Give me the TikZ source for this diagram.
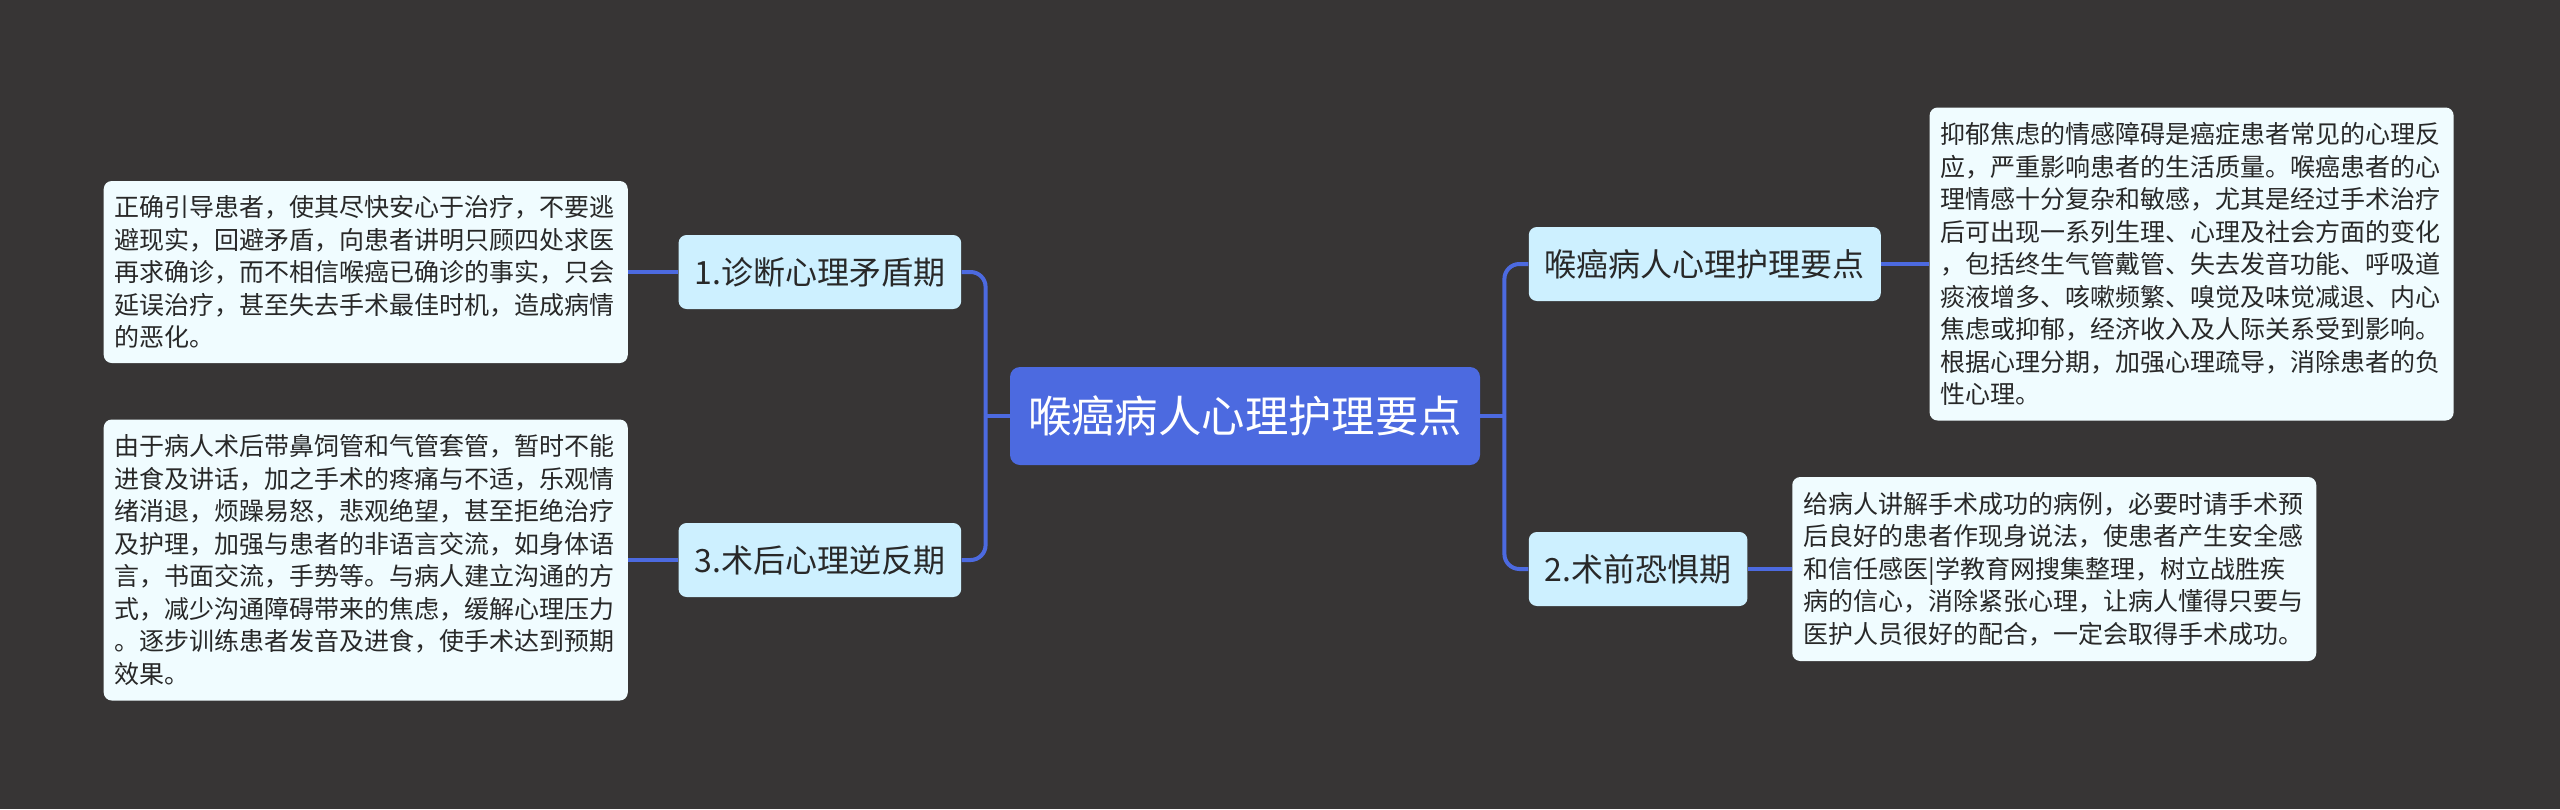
\documentclass[tikz,border=0pt]{standalone}
\usepackage{fontspec}
\setmainfont{Noto Sans CJK SC}
\usetikzlibrary{positioning}
\definecolor{ourbg}{RGB}{55,53,53}
\definecolor{ourblue}{RGB}{76,106,224}
\definecolor{ourcyan}{RGB}{205,240,255}
\definecolor{ourpale}{RGB}{240,252,255}
\definecolor{ourtext}{RGB}{40,40,40}

\begin{document}
\begin{tikzpicture}[
  node distance=24pt,
  root/.style={fill=ourblue, text=white, rounded corners=5pt, inner xsep=0pt, minimum width=235pt, minimum height=49pt, font=\fontsize{21.7pt}{26pt}\selectfont},
  topic/.style={fill=ourcyan, text=ourtext, rounded corners=4pt, inner xsep=8pt, minimum height=37pt, font=\fontsize{16pt}{19pt}\selectfont},
  note/.style={fill=ourpale, text=ourtext, rounded corners=4pt, inner xsep=5.5pt, text width=251pt, align=left, font=\fontsize{12.5pt}{16.25pt}\selectfont},
  link/.style={draw=ourblue, line width=2pt, rounded corners=7.5pt}
]
\fill[ourbg] (0,0) rectangle (1280pt,-404.5pt);

\node[root] (root) at (622.5pt,-208pt) {喉癌病人心理护理要点};

% left branch
\node[topic, left=of root, yshift=72pt] (t1) {1.诊断心理矛盾期};
\node[topic, left=of root, yshift=-72pt] (t3) {3.术后心理逆反期};
% right branch
\node[topic, right=of root, yshift=76pt] (tA) {喉癌病人心理护理要点};
\node[topic, right=of root, yshift=-76.5pt] (t2) {2.术前恐惧期};

\node[note, left=25pt of t1, minimum height=91pt] (n1) {正确引导患者，使其尽快安心于治疗，不要逃\\避现实，回避矛盾，向患者讲明只顾四处求医\\再求确诊，而不相信喉癌已确诊的事实，只会\\延误治疗，甚至失去手术最佳时机，造成病情\\的恶化。};
\node[note, left=25pt of t3, minimum height=140.5pt] (n3) {由于病人术后带鼻饲管和气管套管，暂时不能\\进食及讲话，加之手术的疼痛与不适，乐观情\\绪消退，烦躁易怒，悲观绝望，甚至拒绝治疗\\及护理，加强与患者的非语言交流，如身体语\\言，书面交流，手势等。与病人建立沟通的方\\式，减少沟通障碍带来的焦虑，缓解心理压力\\。逐步训练患者发音及进食，使手术达到预期\\效果。};
\node[note, right=24pt of tA, minimum height=156.5pt] (nA) {抑郁焦虑的情感障碍是癌症患者常见的心理反\\应，严重影响患者的生活质量。喉癌患者的心\\理情感十分复杂和敏感，尤其是经过手术治疗\\后可出现一系列生理、心理及社会方面的变化\\，包括终生气管戴管、失去发音功能、呼吸道\\痰液增多、咳嗽频繁、嗅觉及味觉减退、内心\\焦虑或抑郁，经济收入及人际关系受到影响。\\根据心理分期，加强心理疏导，消除患者的负\\性心理。};
\node[note, right=22pt of t2, minimum height=92pt] (n2) {给病人讲解手术成功的病例，必要时请手术预\\后良好的患者作现身说法，使患者产生安全感\\和信任感医|学教育网搜集整理，树立战胜疾\\病的信心，消除紧张心理，让病人懂得只要与\\医护人员很好的配合，一定会取得手术成功。};

\draw[link] (root.west) -- ++(-12pt,0) coordinate (lj);
\draw[link] (root.east) -- ++(12pt,0) coordinate (rj);
\draw[link] (lj) |- (t1.east);
\draw[link] (lj) |- (t3.east);
\draw[link] (rj) |- (tA.west);
\draw[link] (rj) |- (t2.west);
\draw[link] (t1.west) -- (n1.east);
\draw[link] (t3.west) -- (n3.east);
\draw[link] (tA.east) -- (nA.west);
\draw[link] (t2.east) -- (n2.west);
\end{tikzpicture}
\end{document}
